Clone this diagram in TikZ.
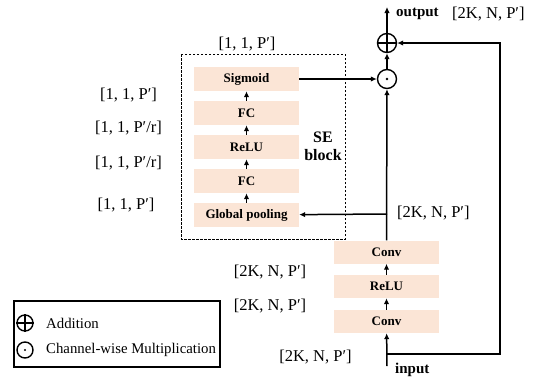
\documentclass[tikz,border=0pt]{standalone}
\usepackage{fontspec}
\setmainfont{Liberation Serif}
\usetikzlibrary{arrows.meta}
\definecolor{peach}{RGB}{251,229,214}
\begin{document}
\begin{tikzpicture}[x=1pt,y=-1pt,
  blk/.style={fill=peach, minimum width=105pt, minimum height=24pt, inner sep=0pt, font=\bfseries\fontsize{13}{13}\selectfont},
  lbl/.style={inner sep=0pt, font=\fontsize{16.5}{16.5}\selectfont},
  arr/.style={-{Latex[length=6pt,width=5.5pt]}, line width=1.5pt},
  opc/.style={circle, draw, line width=1.4pt, minimum size=19pt, inner sep=0pt}]
\useasboundingbox (0,0) rectangle (547,376);
% SE block
\draw[line width=0.9pt, dash pattern=on 2.5pt off 1.5pt] (181,54) rectangle (345,239);
\node[blk] (sig) at (246.5,79) {Sigmoid};
\node[blk] (fc2) at (246.5,113) {FC};
\node[blk] (relu1) at (246.5,147) {ReLU};
\node[blk] (fc1) at (246.5,181) {FC};
\node[blk] (gp) at (246.5,215) {Global pooling};
\node[inner sep=0pt, align=center, font=\bfseries\fontsize{16}{18}\selectfont] (se) at (323,146) {SE\\block};
% main branch
\node[blk, minimum height=23pt] (conv2) at (386.5,252) {Conv};
\node[blk, minimum height=23pt] (relu2) at (386.5,286.5) {ReLU};
\node[blk, minimum height=23pt] (conv1) at (386.5,321.5) {Conv};
\node[opc] (mul) at (387,79) {};
\fill (mul.center) circle (1.3pt);
\node[opc] (add) at (387,43) {};
\draw[line width=1.4pt] (add.north) -- (add.south) (add.west) -- (add.east);
\coordinate (out) at (387,7);
\coordinate (in) at (387,366);
\coordinate (br) at (387,214);
\coordinate (sk1) at (387,354);
\coordinate (sk2) at (500,354);
\coordinate (sk3) at (500,43);
% arrows
\draw[arr] (gp) -- (fc1);
\draw[arr] (fc1) -- (relu1);
\draw[arr] (relu1) -- (fc2);
\draw[arr] (fc2) -- (sig);
\draw[arr] (conv1) -- (relu2);
\draw[arr] (relu2) -- (conv2);
\draw[arr] (in) -- (conv1);
\draw[arr] (conv2) -- (mul);
\draw[arr] (br) -- (gp);
\draw[arr] (sig) -- (mul);
\draw[arr] (mul) -- (add);
\draw[arr] (add) -- (out);
\draw[arr] (sk1) -- (sk2) -- (sk3) -- (add);
% texts
\node[lbl, anchor=west, font=\bfseries\fontsize{15}{15}\selectfont] (outt) at (396,14) {output};
\node[lbl, anchor=west] (outd) at (452,14) {[2K, N, P′]};
\node[lbl, anchor=base west, font=\bfseries\fontsize{15}{15}\selectfont] (int) at (395,373) {input};
\node[lbl] (d0) at (247,44) {[1, 1, P′]};
\node[lbl] (d1) at (128.5,95) {[1, 1, P′]};
\node[lbl] (d2) at (128.5,128) {[1, 1, P′/r]};
\node[lbl] (d3) at (128.5,163) {[1, 1, P′/r]};
\node[lbl] (d4) at (126,205) {[1, 1, P′]};
\node[lbl, anchor=west] (e0) at (397,213) {[2K, N, P′]};
\node[lbl] (e1) at (270,272) {[2K, N, P′]};
\node[lbl] (e2) at (270,306) {[2K, N, P′]};
\node[lbl] (e3) at (315.5,357) {[2K, N, P′]};
% legend
\draw[line width=1.2pt] (14,301) rectangle (220,367);
\node[circle, draw, line width=1.4pt, minimum size=16pt, inner sep=0pt] (la) at (25,323) {};
\draw[line width=1.4pt] (la.north) -- (la.south) (la.west) -- (la.east);
\node[circle, draw, line width=1.4pt, minimum size=16pt, inner sep=0pt] (lm) at (25,350) {};
\fill (lm.center) circle (1.2pt);
\node[anchor=west, inner sep=0pt, font=\fontsize{14.8}{14.8}\selectfont] (lat) at (46,323) {Addition};
\node[anchor=west, inner sep=0pt, font=\fontsize{14.8}{14.8}\selectfont] (lmt) at (46,350) {Channel-wise Multiplication};
\end{tikzpicture}
\end{document}
